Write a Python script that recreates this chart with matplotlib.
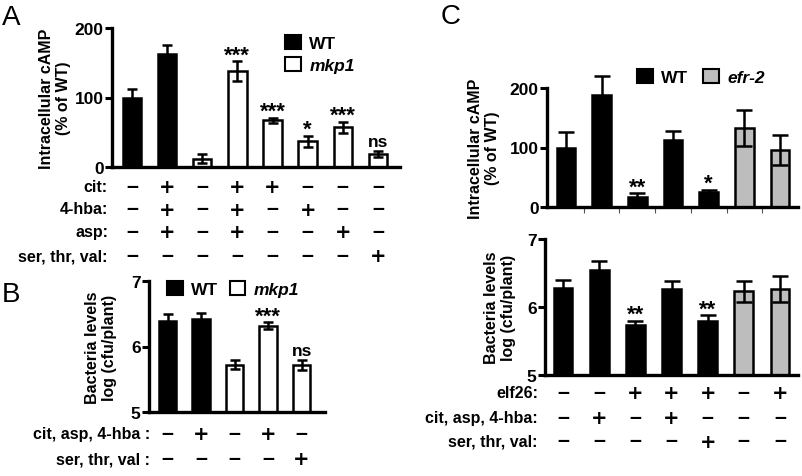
import matplotlib
matplotlib.use('Agg')
import matplotlib.pyplot as plt
import matplotlib.transforms as mtransforms
from matplotlib.patches import Patch

plt.rcParams['font.family'] = ['Liberation Sans', 'DejaVu Sans']
plt.rcParams['font.weight'] = 'bold'

W, H = 802, 477

## Panel A data: intracellular cAMP (% of WT)
a_vals = [100, 163, 12, 138, 67, 37, 57, 19]
a_errs = [12, 13, 6, 14, 4, 8, 8, 4]
a_geno = ['WT', 'WT', 'mkp1', 'mkp1', 'mkp1', 'mkp1', 'mkp1', 'mkp1']
a_sig = ['', '', '', '***', '***', '*', '***', 'ns']
a_row_names = ['cit:', '4-hba:', 'asp:', 'ser, thr, val:']
a_rows = [['-', '+', '-', '+', '+', '-', '-', '-'],
          ['-', '+', '-', '+', '-', '+', '-', '-'],
          ['-', '+', '-', '+', '-', '-', '+', '-'],
          ['-', '-', '-', '-', '-', '-', '-', '+']]

## Panel B data: bacteria levels log(cfu/plant)
b_vals = [6.39, 6.42, 5.72, 6.32, 5.72]
b_errs = [0.11, 0.09, 0.07, 0.05, 0.08]
b_geno = ['WT', 'WT', 'mkp1', 'mkp1', 'mkp1']
b_sig = ['', '', '', '***', 'ns']
b_row_names = ['cit, asp, 4-hba :', 'ser, thr, val :']
b_rows = [['-', '+', '-', '+', '-'],
          ['-', '-', '-', '-', '+']]

## Panel C data
c1_vals = [100, 189, 16, 113, 25, 133, 96]
c1_errs = [26, 31, 7, 14, 4, 30, 25]
c1_sig = ['', '', '**', '', '*', '', '']
c2_vals = [6.28, 6.55, 5.74, 6.26, 5.80, 6.23, 6.26]
c2_errs = [0.12, 0.13, 0.06, 0.12, 0.08, 0.15, 0.19]
c2_sig = ['', '', '**', '', '**', '', '']
c_geno = ['WT', 'WT', 'WT', 'WT', 'WT', 'efr-2', 'efr-2']
c_row_names = ['elf26:', 'cit, asp, 4-hba:', 'ser, thr, val:']
c_rows = [['-', '-', '+', '+', '+', '-', '+'],
          ['-', '+', '-', '+', '-', '-', '-'],
          ['-', '-', '-', '-', '+', '-', '-']]

fill = {'WT': 'black', 'mkp1': 'white', 'efr-2': '#bdbdbd'}

fig = plt.figure(figsize=(W / 100, H / 100), dpi=100)
fig.patch.set_facecolor('white')


def px_rect(l, t, r, b):
    return [l / W, 1 - b / H, (r - l) / W, (b - t) / H]


def bar_panel(rect, vals, errs, geno, sig, ylim, yticks, xlim, ylabel, ylab_x, cap):
    ax = fig.add_axes(px_rect(*rect))
    x = list(range(len(vals)))
    ax.bar(x, vals, width=0.52, color=[fill[g] for g in geno],
           edgecolor='black', linewidth=1.8, zorder=2, bottom=0)
    ax.errorbar(x, vals, yerr=errs, fmt='none', ecolor='black', elinewidth=1.8,
                capsize=cap, capthick=1.8, zorder=3, clip_on=False)
    ax.set_ylim(*ylim)
    ax.set_xlim(*xlim)
    ax.set_yticks(yticks)
    ax.set_yticklabels([str(t) for t in yticks], fontsize=12.5, fontweight='bold')
    ax.set_xticks([])
    for s in ['top', 'right']:
        ax.spines[s].set_visible(False)
    for s in ['left', 'bottom']:
        ax.spines[s].set_linewidth(2.4)
    ax.tick_params(axis='y', length=5, width=2.2, pad=1)
    ax.patch.set_alpha(0)
    fig.text(ylab_x / W, ax.get_position().y0 + ax.get_position().height / 2,
             ylabel, rotation=90, ha='center', va='center', fontsize=11.5,
             fontweight='bold', linespacing=1.15)
    yr = ylim[1] - ylim[0]
    for i, s in enumerate(sig):
        if not s:
            continue
        off = 0.035 * yr if s == 'ns' else 0.005 * yr
        ax.text(i, vals[i] + errs[i] + off, s, ha='center', va='baseline',
                fontsize=16 if '*' in s else 12.5, fontweight='bold')
    return ax


def sign_rows(ax, names, rows, ys, label_x):
    tr = mtransforms.blended_transform_factory(ax.transData, fig.transFigure)
    for name, row, y in zip(names, rows, ys):
        fig.text(label_x / W, 1 - y / H, name, ha='right', va='center',
                 fontsize=11.5, fontweight='bold')
        for i, s in enumerate(row):
            if s == '+':
                ax.text(i, 1 - y / H, '+', transform=tr, ha='center', va='center',
                        fontsize=14, fontweight='bold', family='DejaVu Sans')
            else:
                ax.text(i, 1 - y / H, '\u2013', transform=tr, ha='center', va='center',
                        fontsize=15.5, fontweight='bold')


def legend(ax, labels, x, y, ncol, colsp):
    handles = [Patch(facecolor=fill[g], edgecolor='black', linewidth=1.5) for g in labels]
    leg = ax.legend(handles, labels, loc='center left', bbox_to_anchor=(x / W, 1 - y / H),
                    bbox_transform=fig.transFigure, frameon=False, ncol=ncol,
                    handlelength=0.9, handleheight=0.9, handletextpad=0.5,
                    columnspacing=colsp, labelspacing=0.35, borderpad=0, borderaxespad=0,
                    prop={'size': 12.5, 'weight': 'bold'})
    for t in leg.get_texts():
        if t.get_text() != 'WT':
            t.set_style('italic')
    return leg


# Panel A
axA = bar_panel((112, 29, 400, 168), a_vals, a_errs, a_geno, a_sig, (0, 200), [0, 100, 200],
                (-0.57, 7.63), 'Intracellular cAMP\n(% of WT)', 55, 3.3)
sign_rows(axA, a_row_names, a_rows, [188, 210, 233, 257], 108)
legend(axA, ['WT', 'mkp1'], 285, 55, 1, 1.0)

# Panel B
axB = bar_panel((149, 282, 325, 413), b_vals, b_errs, b_geno, b_sig, (5, 7), [5, 6, 7],
                (-0.56, 4.7), 'Bacteria levels\nlog (cfu/plant)', 101, 3.3)
sign_rows(axB, b_row_names, b_rows, [435, 460], 150)
legend(axB, ['WT', 'mkp1'], 167, 290, 2, 0.65)

# Panel C (top)
axC1 = bar_panel((547, 89, 798, 208), c1_vals, c1_errs, c_geno, c1_sig, (0, 200), [0, 100, 200],
                 (-0.53, 6.5), 'Intracellular cAMP\n(% of WT)', 484, 5.5)
axC1.set_xticks([i + 0.5 for i in range(6)])
axC1.set_xticklabels([])
axC1.tick_params(axis='x', length=4, width=0.8, color='#555555')
legend(axC1, ['WT', 'efr-2'], 637, 78, 2, 0.85)

# Panel C (bottom)
axC2 = bar_panel((545, 240, 798, 376), c2_vals, c2_errs, c_geno, c2_sig, (5, 7), [5, 6, 7],
                 (-0.5, 6.5), 'Bacteria levels\nlog (cfu/plant)', 500, 5.5)
sign_rows(axC2, c_row_names, c_rows, [394, 419, 442], 538)

# panel letters
fig.text(11 / W, 1 - 18 / H, 'A', ha='center', va='center', fontsize=20, fontweight='normal')
fig.text(11 / W, 1 - 295 / H, 'B', ha='center', va='center', fontsize=20, fontweight='normal')
fig.text(451 / W, 1 - 17 / H, 'C', ha='center', va='center', fontsize=20, fontweight='normal')

fig.savefig('out.png', dpi=100, facecolor='white')
